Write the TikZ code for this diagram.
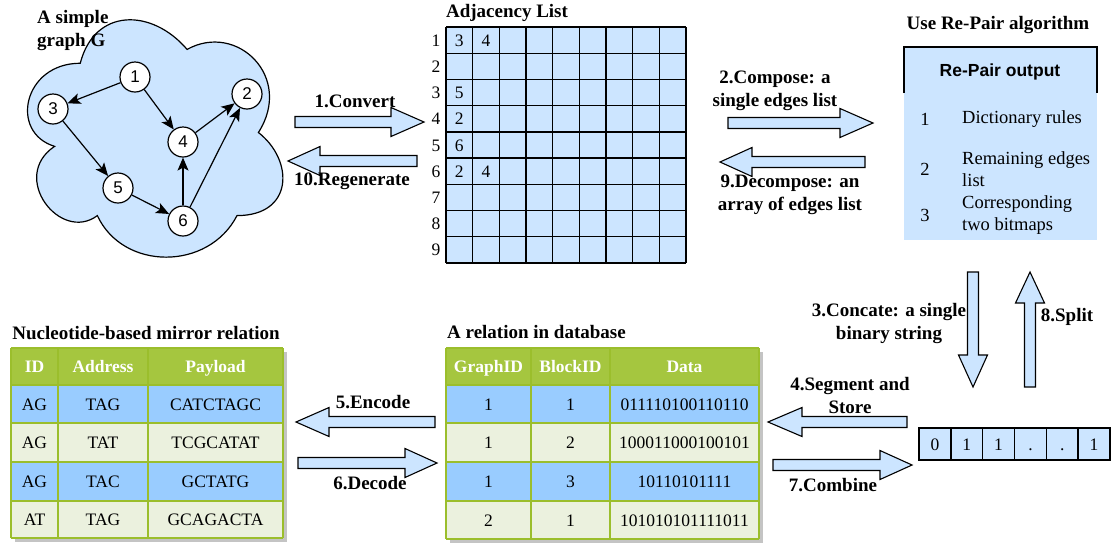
\documentclass[tikz,border=0pt]{standalone}
\usepackage{fontspec}
\setmainfont{Liberation Serif}
\newfontfamily\arialfont{Liberation Sans}
\usetikzlibrary{arrows.meta}
\definecolor{lb}{HTML}{CCE5FF}
\definecolor{rowblue}{HTML}{99CCFF}
\definecolor{rowgreen}{HTML}{EBF1DE}
\definecolor{hdrgreen}{HTML}{A5C63F}
\definecolor{bordgreen}{HTML}{9BBE2C}
\definecolor{shadowgray}{HTML}{C4C4C4}
\newcommand\myharrow[4]{% tail, head base, tip, y
  \draw[blockarrow] (#1,#4-5.5) -- (#2,#4-5.5) -- (#2,#4-14.5) -- (#3,#4) -- (#2,#4+14.5) -- (#2,#4+5.5) -- (#1,#4+5.5) -- cycle;}
\newcommand\myvarrow[4]{% tail, head base, tip, x
  \draw[blockarrow] (#4-5.5,#1) -- (#4-5.5,#2) -- (#4-14.5,#2) -- (#4,#3) -- (#4+14.5,#2) -- (#4+5.5,#2) -- (#4+5.5,#1) -- cycle;}
\begin{document}
\begin{tikzpicture}[x=1pt,y=-1pt,
  lbl/.style={font=\fontsize{19}{23}\selectfont\bfseries, align=center, inner sep=0},
  blockarrow/.style={fill=lb, draw=black, line width=1.1pt, line join=miter},
  gnode/.style={circle, draw, fill=white, line width=1.2pt, minimum size=30pt, inner sep=0, font=\arialfont\fontsize{17}{17}\selectfont},
  gedge/.style={-{Stealth[length=13pt,width=11pt,inset=3pt]}, line width=1.2pt},
  cell/.style={font=\fontsize{17.5}{17.5}\selectfont, inner sep=0, text height=12pt, text depth=0pt},
  item/.style={font=\fontsize{18.5}{22}\selectfont, inner sep=0, align=left},
  hdr/.style={font=\fontsize{17.5}{17.5}\selectfont\bfseries, text=white, inner sep=0, text height=12pt, text depth=0pt},
  gridline/.style={line width=1.4pt},
  tline/.style={draw=bordgreen, line width=2pt},
]
\useasboundingbox (0,0) rectangle (1115,547);

% ---------- cloud with graph ----------
\draw[fill=lb, line width=1.2pt] (80.25,63.25)
  .. controls (23.25,63.25) and (9,132.5) .. (54.6,146.35)
  .. controls (9,176.8) and (60.3,243.3) .. (97.35,215.6)
  .. controls (123,271) and (208.5,271) .. (237,215.6)
  .. controls (294,215.6) and (294,160.2) .. (258.4,132.5)
  .. controls (294,77.1) and (237,21.7) .. (187.1,49.4)
  .. controls (151.5,7.85) and (94.5,7.85) .. (80.25,63.25) -- cycle;
\node[lbl, align=left, anchor=west] (gtitle) at (37,30) {A simple\\graph G};
\node[gnode] (n1) at (135,77) {1};
\node[gnode] (n2) at (247,94) {2};
\node[gnode] (n3) at (53,109) {3};
\node[gnode] (n4) at (183,142) {4};
\node[gnode] (n5) at (118,188) {5};
\node[gnode] (n6) at (183,221) {6};
\draw[gedge] (n1) -- (n3);
\draw[gedge] (n1) -- (n4);
\draw[gedge] (n4) -- (n2);
\draw[gedge] (n3) -- (n5);
\draw[gedge] (n5) -- (n6);
\draw[gedge] (n6) -- (n4);
\draw[gedge] (n6) -- (n2);

% ---------- adjacency list ----------
\node[lbl] (atitle) at (507,13) {Adjacency List};
\fill[lb] (446,27) rectangle (686,263);
\foreach \k in {0,...,9} {
  \draw[gridline] (446+26.667*\k,27) -- (446+26.667*\k,263);
  \draw[gridline] (446,27+26.222*\k) -- (686,27+26.222*\k);
}
\foreach \r in {1,...,9} {
  \node[cell] (row\r) at (436,27+26.222*\r-13.111) {\r};
}
\node[cell] (v11) at (459.3,40.1) {3};
\node[cell] (v12) at (486,40.1) {4};
\node[cell] (v31) at (459.3,92.6) {5};
\node[cell] (v41) at (459.3,118.8) {2};
\node[cell] (v51) at (459.3,145.0) {6};
\node[cell] (v61) at (459.3,171.2) {2};
\node[cell] (v62) at (486,171.2) {4};

% ---------- Re-Pair ----------
\node[lbl] (rtitle) at (998,25) {Use Re-Pair algorithm};
\fill[lb] (904,47) rectangle (1097,240);
\draw[line width=1.2pt] (904,93) -- (904,47) -- (1097,47) -- (1097,93);
\node[font=\arialfont\fontsize{17.5}{17.5}\selectfont\bfseries, inner sep=0] (rhead) at (1000,72) {Re-Pair output};
\node[item] (i1) at (925,119) {1};
\node[item, anchor=west] (t1) at (962,119) {Dictionary rules};
\node[item] (i2) at (925,169) {2};
\node[item, anchor=west] (t2) at (962,169) {Remaining edges\\list};
\node[item] (i3) at (925,215) {3};
\node[item, anchor=west] (t3) at (962,215) {Corresponding\\two bitmaps};

% ---------- block arrows ----------
\myharrow{295}{391}{424}{122}
\node[lbl] (l1) at (355,101) {1.Convert};
\myharrow{417}{320}{288}{161}
\node[lbl] (l10) at (352,181) {10.Regenerate};
\myharrow{728}{840}{873}{123}
\node[lbl] (l2) at (775,91) {2.Compose: a\\single edges list};
\myharrow{865}{752}{720}{162}
\node[lbl] (l9) at (790,195) {9.Decompose: an\\array of edges list};
\myvarrow{272}{355}{387}{973}
\node[lbl] (l3) at (889,323) {3.Concate: a single\\binary string};
\myvarrow{387}{303}{272}{1030}
\node[lbl] (l8) at (1067,317) {8.Split};
\myharrow{907}{802}{768}{422}
\node[lbl] (l4) at (850,395) {4.Segment and\\Store};
\myharrow{773}{880}{912}{465}
\node[lbl] (l7) at (833,485) {7.Combine};
\myharrow{435}{329}{296}{422}
\node[lbl] (l5) at (373,402) {5.Encode};
\myharrow{298}{405}{437}{463}
\node[lbl] (l6) at (370,483) {6.Decode};

% ---------- bit string ----------
\fill[lb] (919,428) rectangle (1110,460);
\draw[gridline] (919,428) rectangle (1110,460);
\foreach \k in {1,...,5} {\draw[gridline] (919+31.833*\k,428) -- (919+31.833*\k,460);}
\foreach \v [count=\k] in {0,1,1,.,.,1} {
  \node[cell] (b\k) at (919+31.833*\k-15.9,444) {\v};
}

% ---------- nucleotide table ----------
\node[lbl] (ntitle) at (146,333) {Nucleotide-based mirror relation};
\fill[shadowgray] (15,352) rectangle (287,542);
\fill[hdrgreen] (11,348) rectangle (283,385);
\fill[rowblue] (11,385) rectangle (283,423);
\fill[rowgreen] (11,423) rectangle (283,462);
\fill[rowblue] (11,462) rectangle (283,501);
\fill[rowgreen] (11,501) rectangle (283,538);
\foreach \xx in {11,58,148,283} {\draw[tline] (\xx,348) -- (\xx,538);}
\foreach \yy in {348,385,423,462,501,538} {\draw[tline] (11,\yy) -- (283,\yy);}
\node[hdr] (nh1) at (34.5,366.5) {ID};
\node[hdr] (nh2) at (103,366.5) {Address};
\node[hdr] (nh3) at (215.5,366.5) {Payload};
\foreach \a/\b/\c [count=\r] in {AG/TAG/CATCTAGC, AG/TAT/TCGCATAT, AG/TAC/GCTATG, AT/TAG/GCAGACTA} {
  \pgfmathsetmacro\yc{{404,442.5,481.5,519.5}[\r-1]}
  \node[cell] (na\r) at (34.5,\yc) {\a};
  \node[cell] (nb\r) at (103,\yc) {\b};
  \node[cell] (nc\r) at (215.5,\yc) {\c};
}

% ---------- relation table ----------
\node[lbl, anchor=west] (dtitle) at (447,332) {A relation in database};
\fill[shadowgray] (450,352) rectangle (763,543);
\fill[hdrgreen] (446,348) rectangle (759,385);
\fill[rowblue] (446,385) rectangle (759,423);
\fill[rowgreen] (446,423) rectangle (759,462);
\fill[rowblue] (446,462) rectangle (759,501);
\fill[rowgreen] (446,501) rectangle (759,539);
\foreach \xx in {446,531,610,759} {\draw[tline] (\xx,348) -- (\xx,539);}
\foreach \yy in {348,385,423,462,501,539} {\draw[tline] (446,\yy) -- (759,\yy);}
\node[hdr] (dh1) at (488.5,366.5) {GraphID};
\node[hdr] (dh2) at (570.5,366.5) {BlockID};
\node[hdr] (dh3) at (684.5,366.5) {Data};
\foreach \a/\b/\c [count=\r] in {1/1/011110100110110, 1/2/100011000100101, 1/3/10110101111, 2/1/101010101111011} {
  \pgfmathsetmacro\yc{{404,442.5,481.5,520}[\r-1]}
  \node[cell] (da\r) at (488.5,\yc) {\a};
  \node[cell] (db\r) at (570.5,\yc) {\b};
  \node[cell] (dc\r) at (684.5,\yc) {\c};
}
\end{tikzpicture}
\end{document}
